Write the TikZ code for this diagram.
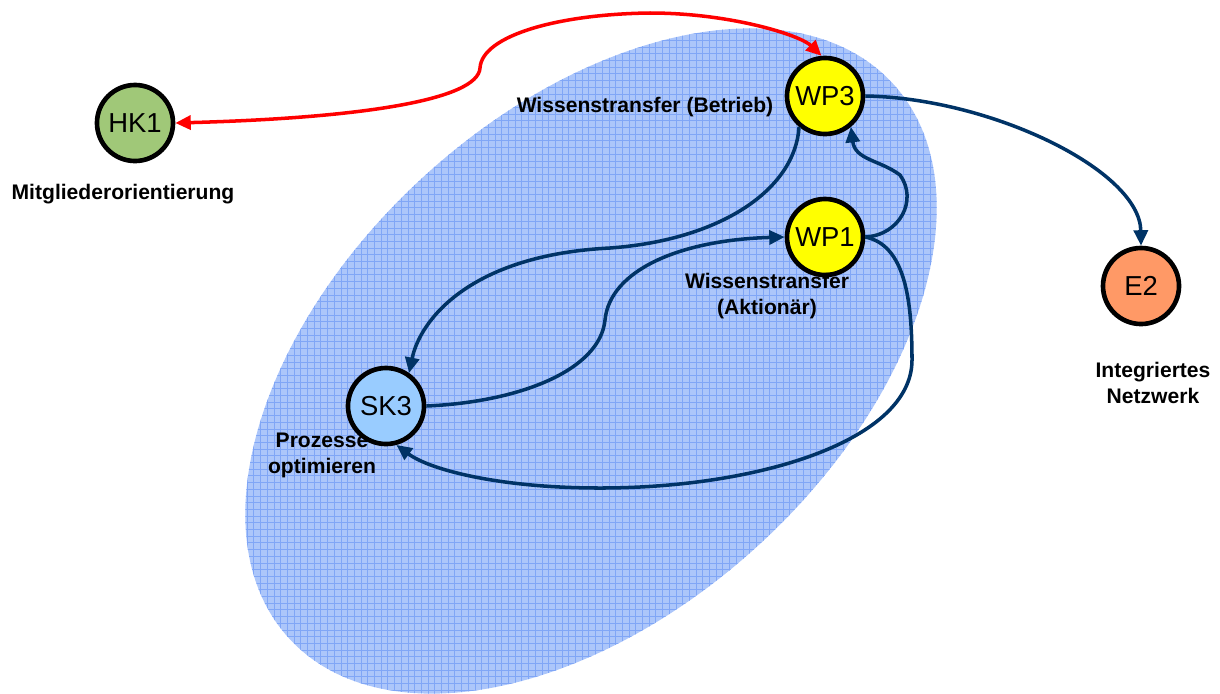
\documentclass[tikz,border=0pt]{standalone}
\usepackage{fontspec}
\setmainfont{Liberation Sans}
\usetikzlibrary{arrows.meta}
\definecolor{dunkelblau}{RGB}{0,51,102}
\definecolor{rot}{RGB}{255,0,0}
\definecolor{gruen}{RGB}{160,200,120}
\definecolor{gelb}{RGB}{255,255,0}
\definecolor{hellblau}{RGB}{153,204,255}
\definecolor{lachs}{RGB}{255,153,102}
\definecolor{flaeche}{RGB}{172,198,250}
\definecolor{raster}{RGB}{128,166,246}
\tikzset{>={Triangle[length=11pt,width=10pt]}}
\tikzset{
	kreis/.style={circle, draw=black, line width=3.3pt, minimum size=1.9cm, inner sep=0pt, font=\fontsize{19.5}{22}\selectfont},
	beschr/.style={align=center, font=\fontsize{15}{18.4}\selectfont\bfseries},
	pfeil/.style={draw=dunkelblau, line width=2.5pt, ->},
}

\begin{document}
\begin{tikzpicture}[x=0.025cm, y=-0.025cm]
	\useasboundingbox (0,0) rectangle (1220,693);

	% Fläche
	\fill[flaeche, rotate around={42.6:(591,361)}] (591,361) ellipse (410 and 249);
	\begin{scope}
		\clip[rotate around={42.6:(591,361)}] (591,361) ellipse (410 and 249);
		\foreach \gx in {180,186.7,...,1000}
			\draw[raster, line width=0.4pt] (\gx,0) -- (\gx,700);
		\foreach \gy in {0,6.7,...,700}
			\draw[raster, line width=0.4pt] (180,\gy) -- (1000,\gy);
	\end{scope}

	\node[kreis, fill=gruen] (HK1) at (135,123) {HK1};
	\node[kreis, fill=gelb] (WP3) at (825,96) {WP3};
	\node[kreis, fill=gelb] (WP1) at (825,237) {WP1};
	\node[kreis, fill=hellblau] (SK3) at (386,406) {SK3};
	\node[kreis, fill=lachs] (E2) at (1141,286) {E2};

	\node[beschr] (HK1text) at (123,194) {Mitgliederorientierung};
	\node[beschr] (WP3text) at (645,107) {Wissenstransfer (Betrieb)};
	\node[beschr] (WP1text) at (767,296) {Wissenstransfer\\(Aktionär)};
	\node[beschr] (SK3text) at (322,455) {Prozesse\\optimieren};
	\node[beschr] (E2text) at (1153,383) {Integriertes\\Netzwerk};

	\draw[rot, line width=2.5pt, <->] (HK1.east) .. controls (360,118) and (478,100) .. (480,68)
		.. controls (482,35) and (560,14) .. (650,13) .. controls (730,13) and (800,35) .. (WP3.95);

	\draw[pfeil] (WP3.east) .. controls (990,98) and (1140,170) .. (E2.north);
	\draw[pfeil] (WP3.230) .. controls (795,190) and (720,240) .. (610,248)
		.. controls (470,255) and (420,320) .. (SK3.55);
	\draw[pfeil] (SK3.east) .. controls (520,402) and (600,370) .. (605,320)
		.. controls (610,270) and (680,240) .. (WP1.west);
	\draw[pfeil] (WP1.east) .. controls (900,235) and (918,200) .. (900,175)
		.. controls (880,160) and (855,160) .. (WP3.-50);
	\draw[pfeil] (WP1.east) .. controls (905,245) and (912,300) .. (912,360)
		.. controls (912,440) and (760,488) .. (600,488) .. controls (500,488) and (430,470) .. (SK3.-75);
\end{tikzpicture}
\end{document}
